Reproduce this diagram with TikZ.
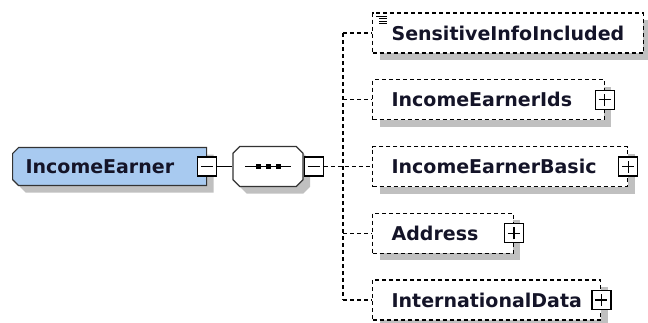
\documentclass[tikz,border=0pt]{standalone}
\usepackage{fontspec}
\setmainfont{DejaVu Sans}
\usetikzlibrary{positioning,calc,shapes.misc,shadows}

\definecolor{earnerblue}{RGB}{168,202,240}
\definecolor{shadowgray}{RGB}{192,192,192}
\definecolor{labeltext}{RGB}{20,20,40}

\tikzset{
  shadebox/.style={drop shadow={shadow xshift=7pt, shadow yshift=-7pt, fill=shadowgray, opacity=1}},
  labelfont/.style={font=\bfseries\fontsize{19}{22}\selectfont, text=labeltext},
  elem/.style={draw, dash pattern=on 4pt off 3pt, line width=1.2pt, fill=white, shadebox,
    minimum height=40pt, inner xsep=19pt, anchor=west, labelfont},
  earnerbox/.style={chamfered rectangle, chamfered rectangle corners={north west,south west},
    chamfered rectangle xsep=3pt, chamfered rectangle ysep=3pt, draw=black!80, fill=earnerblue,
    line width=1.2pt, shadebox, minimum height=38pt, text width=168pt, align=left,
    inner xsep=10pt, anchor=west, labelfont},
  seqbox/.style={chamfered rectangle, chamfered rectangle xsep=10pt, chamfered rectangle ysep=10pt,
    draw=black!80, fill=white, line width=1.2pt, shadebox, minimum width=70pt, minimum height=40pt},
  toggle/.style={draw, fill=white, line width=1.2pt, minimum size=19pt, inner sep=0pt},
  togminus/.style={toggle, path picture={\draw[line width=1.2pt]
    ([xshift=-6pt]path picture bounding box.center) -- ([xshift=6pt]path picture bounding box.center);}},
  togplus/.style={toggle, path picture={\draw[line width=1.2pt]
    ([xshift=-6pt]path picture bounding box.center) -- ([xshift=6pt]path picture bounding box.center)
    ([yshift=-6pt]path picture bounding box.center) -- ([yshift=6pt]path picture bounding box.center);}},
  conn/.style={line width=1.2pt, dash pattern=on 4pt off 3pt}
}

\begin{document}
\begin{tikzpicture}[x=1pt,y=-1pt]
    \useasboundingbox (0,0) rectangle (648,322);

    % Root element
    \node[earnerbox] (earner) at (12,166.5) {IncomeEarner};
    \node[togminus] (earnerm) at (earner.east) {};

    % Sequence
    \node[seqbox] (seq) at (268,166.5) {};
    \draw[line width=1.2pt] ($(seq.center)+(-23,0)$) -- ($(seq.center)+(23,0)$);
    \foreach \d in {-10,0,10} \fill ($(seq.center)+(\d-2.5,-2.5)$) rectangle ++(5,5);
    \node[togminus, anchor=west] (seqm) at (seq.east) {};
    \draw[line width=1.2pt] (earnerm) -- (seq);

    % Child elements
    \node[elem] (sens) at (372,33) {SensitiveInfoIncluded};
    \node[elem] (ids) at (372,99.75) {IncomeEarnerIds\kern13pt};
    \node[elem] (basic) at (372,166.5) {IncomeEarnerBasic\kern12pt};
    \node[elem] (addr) at (372,233.25) {Address\kern16pt};
    \node[elem] (intl) at (372,300) {InternationalData};

    % Simple content icon
    \draw[line width=1pt] ($(sens.north west)+(4,4)$) -- ++(11,0);
    \foreach \y in {6.5,9,11.5} \draw[line width=1pt] ($(sens.north west)+(7,\y)$) -- ++(8,0);

    % Expand boxes
    \foreach \n in {ids,basic,addr,intl} \node[togplus] (\n-p) at (\n.east) {};

    % Connectors
    \coordinate (bus) at (343,0);
    \draw[conn] (sens.west -| bus) -- (intl.west -| bus);
    \foreach \n in {sens,ids,addr,intl} \draw[conn] (\n.west -| bus) -- (\n.west);
    \draw[conn] (seqm.east) -- (basic.west);
\end{tikzpicture}
\end{document}
